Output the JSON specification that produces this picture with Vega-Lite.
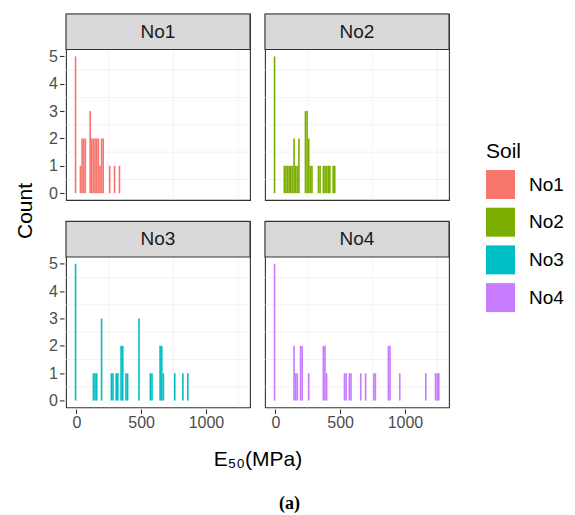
{
  "$schema": "https://vega.github.io/schema/vega-lite/v6.json",
  "padding": {"left": 15, "top": 12, "right": 5, "bottom": 0},
  "title": {"text": "(a)", "orient": "bottom", "anchor": "middle", "frame": "bounds", "font": "Liberation Serif", "fontSize": 18, "fontWeight": "bold", "color": "#000000", "offset": 25},
  "data": {"values": [
    {"Soil": "No1", "E50_from": -12.55, "E50_to": 0, "count": 5},
    {"Soil": "No1", "E50_from": 25.1, "E50_to": 37.65, "count": 1},
    {"Soil": "No1", "E50_from": 37.65, "E50_to": 50.2, "count": 2},
    {"Soil": "No1", "E50_from": 50.2, "E50_to": 62.75, "count": 2},
    {"Soil": "No1", "E50_from": 62.75, "E50_to": 75.3, "count": 2},
    {"Soil": "No1", "E50_from": 100.4, "E50_to": 112.95, "count": 3},
    {"Soil": "No1", "E50_from": 112.95, "E50_to": 125.5, "count": 2},
    {"Soil": "No1", "E50_from": 125.5, "E50_to": 138.05, "count": 2},
    {"Soil": "No1", "E50_from": 138.05, "E50_to": 150.6, "count": 2},
    {"Soil": "No1", "E50_from": 150.6, "E50_to": 163.15, "count": 2},
    {"Soil": "No1", "E50_from": 163.15, "E50_to": 175.7, "count": 2},
    {"Soil": "No1", "E50_from": 175.7, "E50_to": 188.25, "count": 1},
    {"Soil": "No1", "E50_from": 188.25, "E50_to": 200.8, "count": 2},
    {"Soil": "No1", "E50_from": 200.8, "E50_to": 213.35, "count": 2},
    {"Soil": "No1", "E50_from": 251, "E50_to": 263.55, "count": 1},
    {"Soil": "No1", "E50_from": 288.65, "E50_to": 301.2, "count": 1},
    {"Soil": "No1", "E50_from": 326.3, "E50_to": 338.85, "count": 1},

    {"Soil": "No2", "E50_from": -12.55, "E50_to": 0, "count": 5},
    {"Soil": "No2", "E50_from": 62.75, "E50_to": 75.3, "count": 1},
    {"Soil": "No2", "E50_from": 75.3, "E50_to": 87.85, "count": 1},
    {"Soil": "No2", "E50_from": 87.85, "E50_to": 100.4, "count": 1},
    {"Soil": "No2", "E50_from": 100.4, "E50_to": 112.95, "count": 1},
    {"Soil": "No2", "E50_from": 112.95, "E50_to": 125.5, "count": 1},
    {"Soil": "No2", "E50_from": 125.5, "E50_to": 138.05, "count": 1},
    {"Soil": "No2", "E50_from": 138.05, "E50_to": 150.6, "count": 2},
    {"Soil": "No2", "E50_from": 150.6, "E50_to": 163.15, "count": 1},
    {"Soil": "No2", "E50_from": 163.15, "E50_to": 175.7, "count": 1},
    {"Soil": "No2", "E50_from": 175.7, "E50_to": 188.25, "count": 2},
    {"Soil": "No2", "E50_from": 225.9, "E50_to": 238.45, "count": 3},
    {"Soil": "No2", "E50_from": 238.45, "E50_to": 251, "count": 3},
    {"Soil": "No2", "E50_from": 251, "E50_to": 263.55, "count": 2},
    {"Soil": "No2", "E50_from": 263.55, "E50_to": 276.1, "count": 1},
    {"Soil": "No2", "E50_from": 276.1, "E50_to": 288.65, "count": 1},
    {"Soil": "No2", "E50_from": 326.3, "E50_to": 338.85, "count": 1},
    {"Soil": "No2", "E50_from": 338.85, "E50_to": 351.4, "count": 1},
    {"Soil": "No2", "E50_from": 363.95, "E50_to": 376.5, "count": 1},
    {"Soil": "No2", "E50_from": 376.5, "E50_to": 389.05, "count": 1},
    {"Soil": "No2", "E50_from": 389.05, "E50_to": 401.6, "count": 1},
    {"Soil": "No2", "E50_from": 401.6, "E50_to": 414.15, "count": 1},
    {"Soil": "No2", "E50_from": 414.15, "E50_to": 426.7, "count": 1},
    {"Soil": "No2", "E50_from": 439.25, "E50_to": 451.8, "count": 1},
    {"Soil": "No2", "E50_from": 451.8, "E50_to": 464.35, "count": 1},

    {"Soil": "No3", "E50_from": -12.55, "E50_to": 0, "count": 5},
    {"Soil": "No3", "E50_from": 125.5, "E50_to": 138.05, "count": 1},
    {"Soil": "No3", "E50_from": 138.05, "E50_to": 150.6, "count": 1},
    {"Soil": "No3", "E50_from": 150.6, "E50_to": 163.15, "count": 1},
    {"Soil": "No3", "E50_from": 188.25, "E50_to": 200.8, "count": 3},
    {"Soil": "No3", "E50_from": 263.55, "E50_to": 276.1, "count": 1},
    {"Soil": "No3", "E50_from": 276.1, "E50_to": 288.65, "count": 1},
    {"Soil": "No3", "E50_from": 301.2, "E50_to": 313.75, "count": 1},
    {"Soil": "No3", "E50_from": 313.75, "E50_to": 326.3, "count": 1},
    {"Soil": "No3", "E50_from": 338.85, "E50_to": 351.4, "count": 2},
    {"Soil": "No3", "E50_from": 351.4, "E50_to": 363.95, "count": 2},
    {"Soil": "No3", "E50_from": 376.5, "E50_to": 389.05, "count": 1},
    {"Soil": "No3", "E50_from": 389.05, "E50_to": 401.6, "count": 1},
    {"Soil": "No3", "E50_from": 476.9, "E50_to": 489.45, "count": 3},
    {"Soil": "No3", "E50_from": 564.75, "E50_to": 577.3, "count": 1},
    {"Soil": "No3", "E50_from": 577.3, "E50_to": 589.85, "count": 1},
    {"Soil": "No3", "E50_from": 640.05, "E50_to": 652.6, "count": 2},
    {"Soil": "No3", "E50_from": 652.6, "E50_to": 665.15, "count": 2},
    {"Soil": "No3", "E50_from": 665.15, "E50_to": 677.7, "count": 1},
    {"Soil": "No3", "E50_from": 753, "E50_to": 765.55, "count": 1},
    {"Soil": "No3", "E50_from": 815.75, "E50_to": 828.3, "count": 1},
    {"Soil": "No3", "E50_from": 853.4, "E50_to": 865.95, "count": 1},

    {"Soil": "No4", "E50_from": -12.55, "E50_to": 0, "count": 5},
    {"Soil": "No4", "E50_from": 138.05, "E50_to": 150.6, "count": 2},
    {"Soil": "No4", "E50_from": 150.6, "E50_to": 163.15, "count": 1},
    {"Soil": "No4", "E50_from": 163.15, "E50_to": 175.7, "count": 1},
    {"Soil": "No4", "E50_from": 188.25, "E50_to": 200.8, "count": 2},
    {"Soil": "No4", "E50_from": 200.8, "E50_to": 213.35, "count": 2},
    {"Soil": "No4", "E50_from": 251, "E50_to": 263.55, "count": 1},
    {"Soil": "No4", "E50_from": 363.95, "E50_to": 376.5, "count": 2},
    {"Soil": "No4", "E50_from": 376.5, "E50_to": 389.05, "count": 2},
    {"Soil": "No4", "E50_from": 389.05, "E50_to": 401.6, "count": 1},
    {"Soil": "No4", "E50_from": 527.1, "E50_to": 539.65, "count": 1},
    {"Soil": "No4", "E50_from": 539.65, "E50_to": 552.2, "count": 1},
    {"Soil": "No4", "E50_from": 564.75, "E50_to": 577.3, "count": 1},
    {"Soil": "No4", "E50_from": 577.3, "E50_to": 589.85, "count": 1},
    {"Soil": "No4", "E50_from": 652.6, "E50_to": 665.15, "count": 1},
    {"Soil": "No4", "E50_from": 690.25, "E50_to": 702.8, "count": 1},
    {"Soil": "No4", "E50_from": 753, "E50_to": 765.55, "count": 1},
    {"Soil": "No4", "E50_from": 765.55, "E50_to": 778.1, "count": 1},
    {"Soil": "No4", "E50_from": 865.95, "E50_to": 878.5, "count": 2},
    {"Soil": "No4", "E50_from": 878.5, "E50_to": 891.05, "count": 2},
    {"Soil": "No4", "E50_from": 953.8, "E50_to": 966.35, "count": 1},
    {"Soil": "No4", "E50_from": 1154.6, "E50_to": 1167.15, "count": 1},
    {"Soil": "No4", "E50_from": 1229.9, "E50_to": 1242.45, "count": 1},
    {"Soil": "No4", "E50_from": 1242.45, "E50_to": 1255, "count": 1},
    {"Soil": "No4", "E50_from": 1255, "E50_to": 1267.55, "count": 1}
  ]},
  "transform": [
    {"calculate": "indexof(['No1', 'No2'], datum.Soil) >= 0 ? 'top' : 'bottom'", "as": "panel_row"},
    {"calculate": "indexof(['No1', 'No3'], datum.Soil) >= 0 ? 'left' : 'right'", "as": "panel_col"}
  ],
  "facet": {
    "row": {"field": "panel_row", "type": "nominal", "sort": ["top", "bottom"],
            "header": {"title": "Count", "labels": false, "titleOrient": "left", "titleFontSize": 21, "titleFont": "Liberation Sans",
                       "titleFontWeight": "normal", "titleColor": "#000000", "titlePadding": 2}},
    "column": {"field": "panel_col", "type": "nominal", "sort": ["left", "right"],
               "header": {"title": "E₅₀(MPa)", "labels": false, "titleOrient": "bottom", "titleFontSize": 21, "titleFont": "Liberation Sans",
                          "titleFontWeight": "normal", "titleColor": "#000000", "titlePadding": 8}}
  },
  "spacing": {"row": 18.4, "column": 11},
  "spec": {
    "width": 184,
    "height": 186,
    "layer": [
      {"transform": [{"aggregate": [{"op": "count", "as": "n"}], "groupby": ["Soil"]}],
       "mark": {"type": "rule", "color": "#EBEBEB", "strokeWidth": 0.6},
       "encoding": {"y": {"datum": 0.5, "type": "quantitative"}}},
      {"transform": [{"aggregate": [{"op": "count", "as": "n"}], "groupby": ["Soil"]}],
       "mark": {"type": "rule", "color": "#EBEBEB", "strokeWidth": 0.6},
       "encoding": {"y": {"datum": 1.5, "type": "quantitative"}}},
      {"transform": [{"aggregate": [{"op": "count", "as": "n"}], "groupby": ["Soil"]}],
       "mark": {"type": "rule", "color": "#EBEBEB", "strokeWidth": 0.6},
       "encoding": {"y": {"datum": 2.5, "type": "quantitative"}}},
      {"transform": [{"aggregate": [{"op": "count", "as": "n"}], "groupby": ["Soil"]}],
       "mark": {"type": "rule", "color": "#EBEBEB", "strokeWidth": 0.6},
       "encoding": {"y": {"datum": 3.5, "type": "quantitative"}}},
      {"transform": [{"aggregate": [{"op": "count", "as": "n"}], "groupby": ["Soil"]}],
       "mark": {"type": "rule", "color": "#EBEBEB", "strokeWidth": 0.6},
       "encoding": {"y": {"datum": 4.5, "type": "quantitative"}}},
      {"transform": [{"aggregate": [{"op": "count", "as": "n"}], "groupby": ["Soil"]}],
       "mark": {"type": "rule", "color": "#EBEBEB", "strokeWidth": 0.6},
       "encoding": {"x": {"datum": 250, "type": "quantitative"}}},
      {"transform": [{"aggregate": [{"op": "count", "as": "n"}], "groupby": ["Soil"]}],
       "mark": {"type": "rule", "color": "#EBEBEB", "strokeWidth": 0.6},
       "encoding": {"x": {"datum": 750, "type": "quantitative"}}},
      {"transform": [{"aggregate": [{"op": "count", "as": "n"}], "groupby": ["Soil"]}],
       "mark": {"type": "rule", "color": "#EBEBEB", "strokeWidth": 0.6},
       "encoding": {"x": {"datum": 1250, "type": "quantitative"}}},
      {
        "mark": {"type": "rect"},
        "encoding": {
          "x": {"field": "E50_from", "type": "quantitative",
                "scale": {"domain": [-80, 1340], "nice": false, "zero": false},
                "axis": {"title": null, "values": [0, 500, 1000], "tickCount": 20, "format": "d"}},
          "x2": {"field": "E50_to"},
          "y": {"field": "count", "type": "quantitative",
                "scale": {"domain": [-0.25, 6.55], "nice": false, "zero": false},
                "axis": {"title": null, "values": [0, 1, 2, 3, 4, 5], "tickCount": 20, "format": "d"}},
          "y2": {"datum": 0},
          "color": {"field": "Soil", "type": "nominal",
                    "scale": {"domain": ["No1", "No2", "No3", "No4"], "range": ["#F8766D", "#7CAE00", "#00BFC4", "#C77CFF"]},
                    "legend": {"title": "Soil", "orient": "none", "legendX": 420, "legendY": 127}}
        }
      },
      {
        "transform": [{"aggregate": [{"op": "count", "as": "n"}], "groupby": ["Soil"]}],
        "mark": {"type": "rect", "fill": "#D9D9D9", "stroke": "#333333", "strokeWidth": 1.1},
        "encoding": {
          "x": {"datum": -80, "type": "quantitative"},
          "x2": {"datum": 1340},
          "y": {"datum": 5.25, "type": "quantitative"},
          "y2": {"datum": 6.55}
        }
      },
      {
        "transform": [{"aggregate": [{"op": "count", "as": "n"}], "groupby": ["Soil"]}],
        "mark": {"type": "text", "fontSize": 19, "color": "#1A1A1A", "font": "Liberation Sans", "align": "center", "baseline": "middle"},
        "encoding": {
          "x": {"datum": 630, "type": "quantitative"},
          "y": {"datum": 5.9, "type": "quantitative"},
          "text": {"field": "Soil", "type": "nominal"}
        }
      }
    ]
  },
  "config": {
    "font": "Liberation Sans",
    "view": {"stroke": "#333333", "strokeWidth": 1.1},
    "axis": {"domain": false, "gridColor": "#EBEBEB", "gridWidth": 1.2, "tickColor": "#333333", "tickSize": 4.5, "tickWidth": 1.1, "labelOverlap": false,
             "labelColor": "#4D4D4D", "labelFont": "Liberation Sans", "labelFontSize": 16, "labelPadding": 2},
    "axisX": {"labelPadding": 1},
    "legend": {"symbolType": "square", "symbolSize": 841, "symbolStrokeWidth": 0, "labelFontSize": 19, "labelFont": "Liberation Sans",
               "labelColor": "#000000", "titleFontSize": 21, "titleFont": "Liberation Sans", "titleFontWeight": "normal",
               "titleColor": "#000000", "rowPadding": 8.7, "labelOffset": 14, "titlePadding": 8}
  }
}
